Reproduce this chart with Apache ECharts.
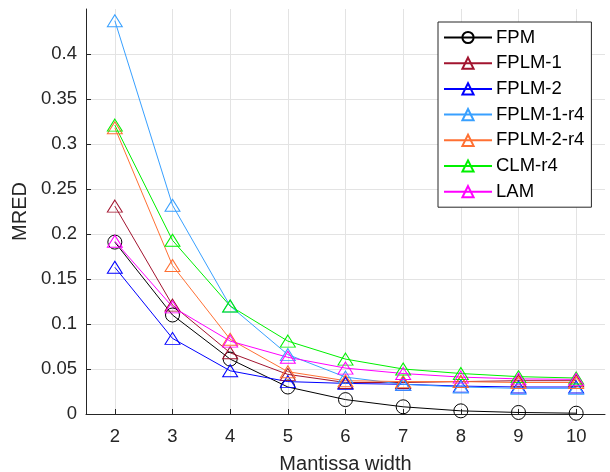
<!DOCTYPE html>
<html><head><meta charset="utf-8">
<script src="https://cdn.jsdelivr.net/npm/echarts@6/dist/echarts.min.js"></script>
<style>html,body{margin:0;padding:0;background:#fff}#c{width:610px;height:472px}</style>
</head><body><div id="c"></div>
<script>
const mantissaWidths = [2, 3, 4, 5, 6, 7, 8, 9, 10];
const seriesNames = ['FPM', 'FPLM-1', 'FPLM-2', 'FPLM-1-r4', 'FPLM-2-r4', 'CLM-r4', 'LAM'];
const fpm      = [0.191, 0.110, 0.061, 0.030, 0.016, 0.008, 0.0035, 0.0017, 0.0009];
const fplm1    = [0.231, 0.121, 0.068, 0.044, 0.035, 0.035, 0.036, 0.037, 0.037];
const fplm2    = [0.163, 0.084, 0.048, 0.036, 0.034, 0.033, 0.031, 0.030, 0.030];
const fplm1r4  = [0.437, 0.232, 0.120, 0.066, 0.041, 0.033, 0.030, 0.0285, 0.0285];
const fplm2r4  = [0.318, 0.165, 0.083, 0.047, 0.037, 0.036, 0.036, 0.035, 0.035];
const clmr4    = [0.321, 0.193, 0.120, 0.081, 0.061, 0.050, 0.045, 0.0415, 0.040];
const lam      = [0.192, 0.119, 0.081, 0.063, 0.051, 0.045, 0.041, 0.039, 0.0385];
const xTickValues = [2, 3, 4, 5, 6, 7, 8, 9, 10];

const values = [fpm, fplm1, fplm2, fplm1r4, fplm2r4, clmr4, lam];
const colors = ['#000000', '#a2142f', '#0000ff', '#38a0ff', '#ff7033', '#00f000', '#ff00ff'];
const symbols = ['circle', 'triangle', 'triangle', 'triangle', 'triangle', 'triangle', 'triangle'];

const FONT = '"Liberation Sans", Helvetica, Arial, sans-serif';
const AX = '#262626';

const series = seriesNames.map((name, i) => ({
  name,
  type: 'line',
  data: mantissaWidths.map((x, j) => [x, values[i][j]]),
  symbol: symbols[i],
  symbolSize: symbols[i] === 'circle' ? 14 : [15, 12],
  showAllSymbol: true,
  lineStyle: { color: colors[i], width: 1 },
  itemStyle: { color: 'rgba(255,255,255,0)', borderColor: colors[i], borderWidth: 1 },
  emphasis: { disabled: true },
  silent: true,
  animation: false
}));

const chart = echarts.init(document.getElementById('c'), null, { renderer: 'canvas' });
chart.setOption({
  backgroundColor: '#fff',
  animation: false,
  grid: { left: 86, top: 9, right: 5, bottom: 58, containLabel: false, outerBoundsMode: 'none' },
  xAxis: {
    type: 'value', min: 1.5, max: 10.5,
    name: 'Mantissa width', nameLocation: 'middle', nameGap: 40,
    nameTextStyle: { fontSize: 20, color: AX, fontFamily: FONT },
    axisLine: { show: true, onZero: false, lineStyle: { color: AX, width: 1 } },
    axisTick: { show: true, inside: true, length: 5, customValues: xTickValues, lineStyle: { color: AX } },
    axisLabel: { customValues: xTickValues, margin: 13, fontSize: 18.5, color: AX, fontFamily: FONT },
    splitLine: { show: true, customValues: xTickValues, lineStyle: { color: '#e3e3e3', width: 1 } }
  },
  yAxis: {
    type: 'value', min: 0, max: 0.45, interval: 0.05,
    name: 'MRED', nameLocation: 'middle', nameGap: 47, nameRotate: 90,
    nameTextStyle: { fontSize: 20, color: AX, fontFamily: FONT },
    axisLine: { show: true, lineStyle: { color: AX, width: 1 } },
    axisTick: { show: true, inside: true, length: 5, lineStyle: { color: AX } },
    axisLabel: { margin: 9, fontSize: 18.5, color: AX, fontFamily: FONT, showMaxLabel: false },
    splitLine: { show: true, showMaxLine: false, lineStyle: { color: '#e3e3e3', width: 1 } }
  },
  legend: {
    orient: 'vertical', left: 438, top: 22,
    data: seriesNames,
    backgroundColor: '#fff', borderColor: '#262626', borderWidth: 1,
    padding: [6, 7, 6, 5],
    itemWidth: 48, itemHeight: 14, itemGap: 6.7,
    textStyle: { fontSize: 18.5, color: '#000', fontFamily: FONT, padding: [0, 0, 0, -1] },
    selectedMode: false
  },
  series
});
</script>
</body></html>
